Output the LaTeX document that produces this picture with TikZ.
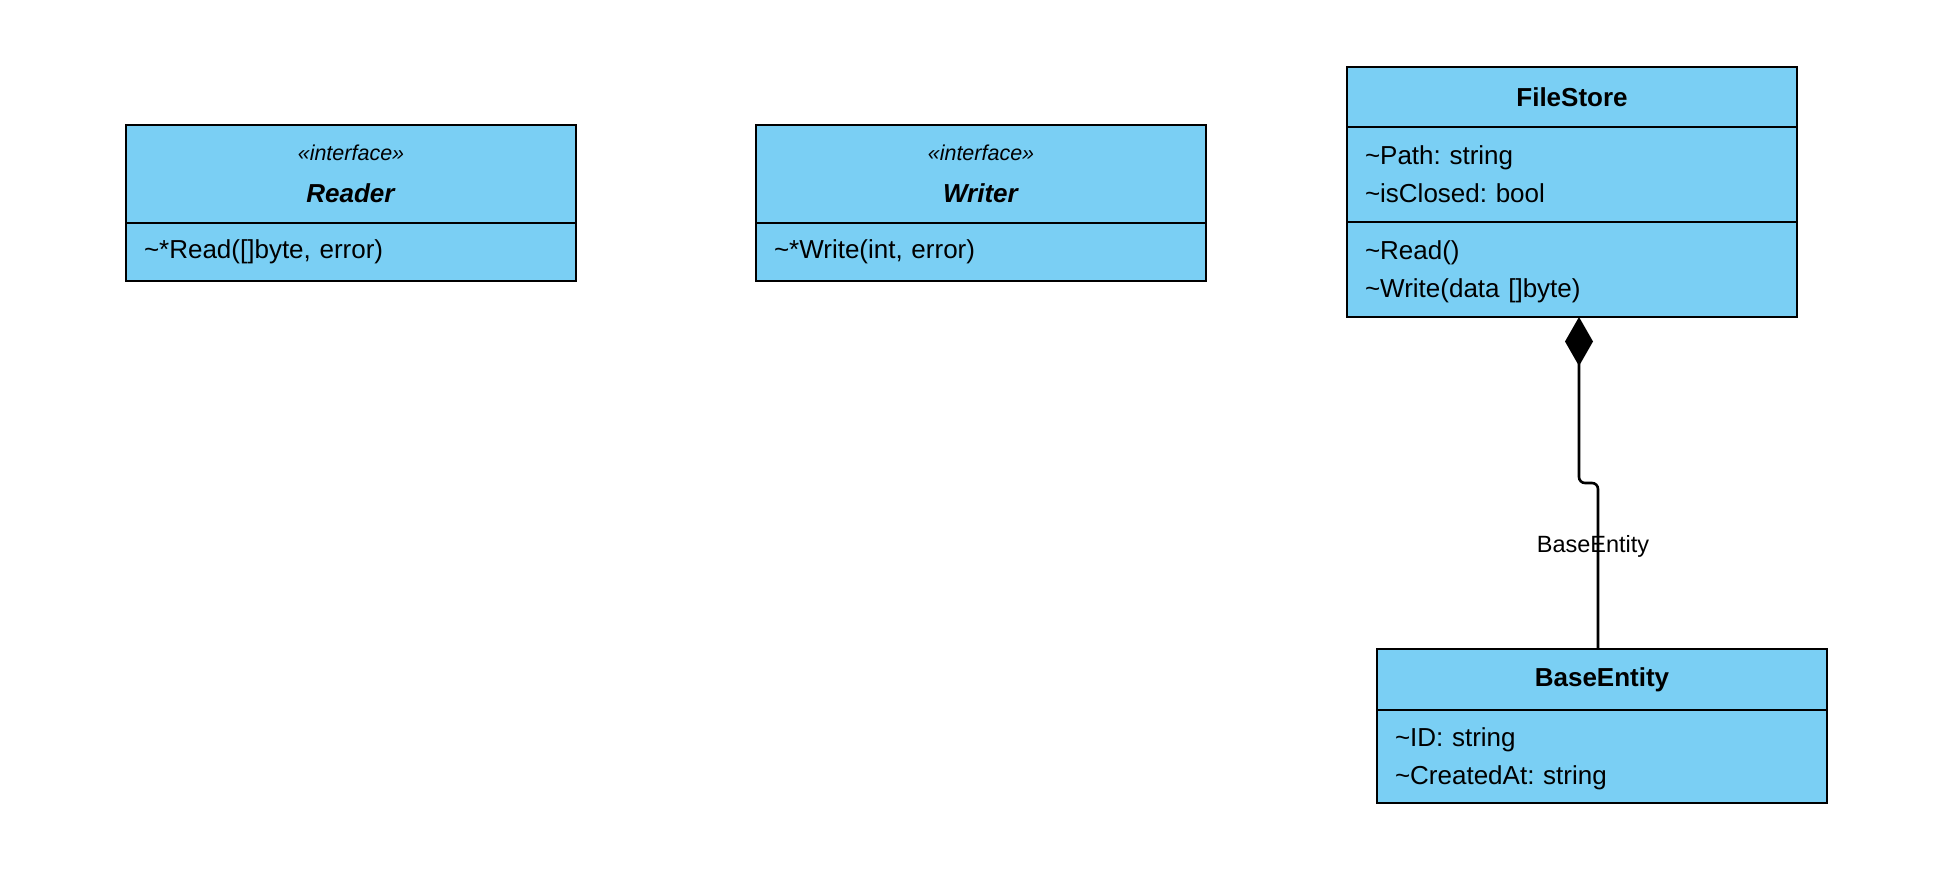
\documentclass[tikz,border=0pt]{standalone}
\usepackage{fontspec}
\setmainfont{Liberation Sans}
\usepackage{xcolor}
\usetikzlibrary{arrows.meta,positioning}

\definecolor{umlblue}{RGB}{122,207,244}
\newcommand{\pkgvis}{\textasciitilde}
\frenchspacing

\begin{document}
\begin{tikzpicture}[
    x=1pt, y=-1pt,
    classhead/.style={rectangle, draw, line width=2pt, outer sep=0pt, fill=umlblue, minimum width=450pt, inner sep=0pt, align=center, font={\fontsize{26}{42}\selectfont}},
    classbody/.style={rectangle, draw, line width=2pt, outer sep=0pt, fill=umlblue, text width=414pt, inner xsep=18pt, inner ysep=0pt, align=left, font={\fontsize{26}{38}\selectfont}},
    twolines/.style={text depth=39pt},
    composition/.style={{Diamond[length=49pt,width=28pt]}-, line width=2.6pt, rounded corners=6pt},
    edgelabel/.style={font={\fontsize{23.5}{28}\selectfont}}
]
\useasboundingbox (0,0) rectangle (1954,880);

% interfaces
\node[classhead, anchor=north west, minimum height=98pt] (reader) at (126,125) {{\fontsize{21.5}{26}\selectfont\itshape «interface»}\\\textbf{\textit{Reader}}};
\node[classbody, below=0pt of reader, minimum height=58pt] (readerops) {\pkgvis*Read([]byte, error)};

\node[classhead, anchor=north west, minimum height=98pt] (writer) at (756,125) {{\fontsize{21.5}{26}\selectfont\itshape «interface»}\\\textbf{\textit{Writer}}};
\node[classbody, below=0pt of writer, minimum height=58pt] (writerops) {\pkgvis*Write(int, error)};

% file store
\node[classhead, anchor=north west, minimum height=60pt] (fs) at (1347,67) {\textbf{FileStore}};
\node[classbody, twolines, below=0pt of fs, minimum height=95pt] (fsattr) {\pkgvis Path: string\\\pkgvis isClosed: bool};
\node[classbody, twolines, below=0pt of fsattr, minimum height=95pt] (fsops) {\pkgvis Read()\\\pkgvis Write(data []byte)};

% base entity
\node[classhead, anchor=north west, minimum height=61pt] (base) at (1377,649) {\textbf{BaseEntity}};
\node[classbody, twolines, below=0pt of base, minimum height=93pt] (baseattr) {\pkgvis ID: string\\\pkgvis CreatedAt: string};

% composition
\coordinate (fsjoin) at ([xshift=7pt]fsops.south);
\coordinate (basejoin) at ([xshift=-4pt]base.north);
\node[edgelabel] (haslabel) at (1593,546) {BaseEntity};
\draw[composition] (fsjoin) -- ++(0,166) -| (basejoin);

\end{tikzpicture}
\end{document}
